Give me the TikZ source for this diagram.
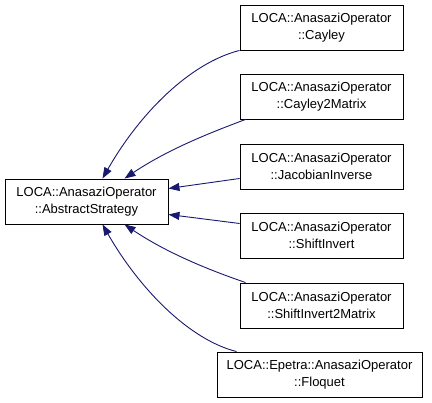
\documentclass[tikz,border=0pt]{standalone}
\usepackage{fontspec}
\setmainfont{Liberation Sans}
\usetikzlibrary{arrows.meta}
\definecolor{edgeblue}{RGB}{25,25,112}
\tikzset{
  cls/.style={draw=black, line width=0.9pt, fill=white, align=center, inner sep=0pt,
    minimum height=45pt, font=\fontsize{13}{16.5}\selectfont},
  inh/.style={draw=edgeblue, line width=0.9pt, {Triangle[length=11pt,width=8pt,fill=edgeblue]}-},
}
\begin{document}
\begin{tikzpicture}[x=1pt,y=1pt]
\useasboundingbox (0,0) rectangle (432,403);
\node[cls, minimum width=163pt] (base) at (86.5,201.5) {LOCA::AnasaziOperator\\::AbstractStrategy};
\node[cls, minimum width=163pt] (cay) at (321.5,375.5) {LOCA::AnasaziOperator\\::Cayley};
\node[cls, minimum width=163pt] (cay2) at (321.5,306.5) {LOCA::AnasaziOperator\\::Cayley2Matrix};
\node[cls, minimum width=163pt] (jac) at (321.5,236.5) {LOCA::AnasaziOperator\\::JacobianInverse};
\node[cls, minimum width=163pt] (si) at (321.5,167.5) {LOCA::AnasaziOperator\\::ShiftInvert};
\node[cls, minimum width=163pt] (si2) at (321.5,97.5) {LOCA::AnasaziOperator\\::ShiftInvert2Matrix};
\node[cls, minimum width=205pt] (flo) at (319.5,28.5) {LOCA::Epetra::AnasaziOperator\\::Floquet};
\draw[inh] ([xshift=16pt]base.north) .. controls (140,290) and (190,340) .. ([yshift=0pt]cay.south west);
\draw[inh] ([xshift=38pt]base.north) .. controls (170,255) and (215,272) .. ([xshift=6pt]cay2.south west);
\draw[inh] ([yshift=13pt]base.east) -- ([yshift=-12pt]jac.west);
\draw[inh] ([yshift=-13pt]base.east) -- ([yshift=12pt]si.west);
\draw[inh] ([xshift=38pt]base.south) .. controls (170,148) and (215,131) .. ([xshift=6pt]si2.north west);
\draw[inh] ([xshift=16pt]base.south) .. controls (140,113) and (190,63) .. ([xshift=20pt]flo.north west);
\end{tikzpicture}
\end{document}
